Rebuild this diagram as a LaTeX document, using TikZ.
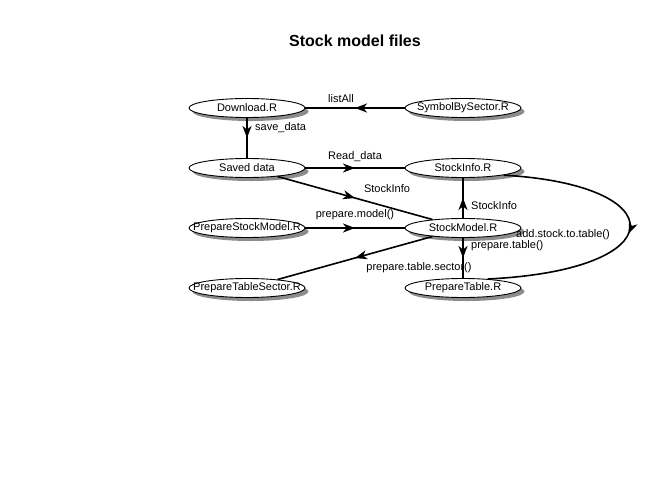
\documentclass[tikz,border=0pt]{standalone}
\usepackage{fontspec}
\setmainfont{Liberation Sans}
\usetikzlibrary{shapes.geometric,shadows,decorations.markings,arrows.meta}
\begin{document}
\begin{tikzpicture}[x=1pt,y=-1pt,
  fnode/.style={ellipse, draw, line width=0.9pt, fill=white, minimum width=116pt, minimum height=19pt, inner sep=0pt,
    drop shadow={shadow xshift=3.5pt, shadow yshift=-3.5pt, fill=black!45, opacity=1}},
  ntext/.style={font=\fontsize{11}{13}\selectfont, inner sep=0pt},
  elabel/.style={font=\fontsize{11}{13}\selectfont, inner sep=0pt},
  conn/.style={line width=1.6pt, postaction={decorate},
    decoration={markings, mark=at position 0.5 with {\arrow{Stealth[length=12pt,width=9pt,inset=3.5pt]}}}}]
\useasboundingbox (0,0) rectangle (672,480);
\node[font=\bfseries\fontsize{16}{19}\selectfont] (title) at (355,41) {Stock model files};

\node[fnode] (dl) at (247,108) {};
\node[ntext] (dlt) at (dl) {Download.R};
\node[fnode] (sbs) at (463,108) {};
\node[ntext] (sbst) at (sbs) {SymbolBySector.R};
\node[fnode] (sd) at (247,168) {};
\node[ntext] (sdt) at (sd) {Saved data};
\node[fnode] (si) at (463,168) {};
\node[ntext] (sit) at (si) {StockInfo.R};
\node[fnode] (psm) at (247,228) {};
\node[ntext] (psmt) at (psm) {PrepareStockModel.R};
\node[fnode] (sm) at (463,228) {};
\node[ntext] (smt) at (sm) {StockModel.R};
\node[fnode] (pts) at (247,288) {};
\node[ntext] (ptst) at (pts) {PrepareTableSector.R};
\node[fnode] (pt) at (463,288) {};
\node[ntext] (ptt) at (pt) {PrepareTable.R};

\draw[conn] (sbs) -- (dl);
\draw[conn] (dl) -- (sd);
\draw[conn] (sd) -- (si);
\draw[conn] (sd) -- (sm);
\draw[conn] (sm) -- (si);
\draw[conn] (psm) -- (sm);
\draw[conn] (sm) -- (pts);
\draw[conn] (sm) -- (pt);
\draw[conn] (si.-10) .. controls (675,185) and (675,270) .. (pt.20);

\node[elabel] (l1) at (341,99) {listAll};
\node[elabel, anchor=west] (l2) at (255,128) {save\_data};
\node[elabel] (l3) at (355,157) {Read\_data};
\node[elabel] (l4) at (387,189) {StockInfo};
\node[elabel, anchor=west] (l5) at (471,206) {StockInfo};
\node[elabel] (l6) at (355,215) {prepare.model()};
\node[elabel, anchor=west] (l7) at (516,235) {add.stock.to.table()};
\node[elabel, anchor=west] (l8) at (471,246) {prepare.table()};
\node[elabel] (l9) at (419,268) {prepare.table.sector()};
\end{tikzpicture}
\end{document}
